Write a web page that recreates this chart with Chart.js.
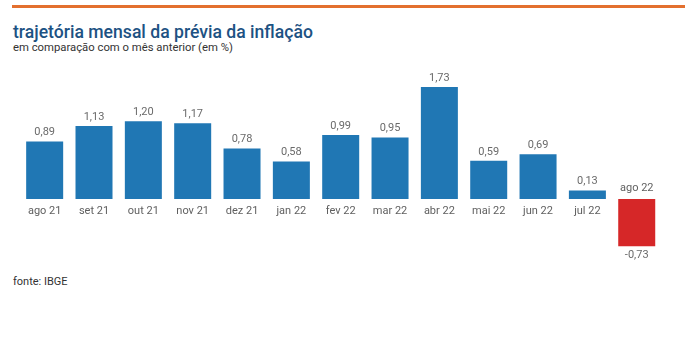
<!DOCTYPE html>
<html><head><meta charset="utf-8">
<script src="https://cdn.jsdelivr.net/npm/chart.js@4"></script>
<style>
html,body{margin:0;padding:0;background:#fff;}
#wrap{position:relative;width:700px;height:356px;overflow:hidden;font-family:Roboto,sans-serif;}
#bar{position:absolute;left:12px;top:5px;width:673px;height:3px;background:#e3702f;}
#title{position:absolute;left:13px;top:22px;font-size:17.6px;font-weight:500;color:#1d5283;white-space:nowrap;}
#sub{position:absolute;left:13px;top:41px;font-size:11.3px;color:#333;white-space:nowrap;}
#src{position:absolute;left:13px;top:275px;font-size:11px;color:#333;white-space:nowrap;}
canvas{position:absolute;left:0;top:0;}
</style></head>
<body><div id="wrap">
<div id="bar"></div>
<div id="title">trajetória mensal da prévia da inflação</div>
<div id="sub">em comparação com o mês anterior (em %)</div>
<div id="src">fonte: IBGE</div>
<canvas id="c" width="700" height="356"></canvas>
</div>
<script>
const categories = ["ago 21","set 21","out 21","nov 21","dez 21","jan 22","fev 22","mar 22","abr 22","mai 22","jun 22","jul 22","ago 22"];
const values = [0.89,1.13,1.20,1.17,0.78,0.58,0.99,0.95,1.73,0.59,0.69,0.13,-0.73];
const posColor = "#2077b4";
const negColor = "#d62728";

const labelPlugin = {
  id:'labels',
  afterDatasetsDraw(chart){
    const ctx = chart.ctx;
    const meta = chart.getDatasetMeta(0);
    const y0 = chart.scales.y.getPixelForValue(0);
    ctx.save();
    ctx.font = "11px Roboto, sans-serif";
    ctx.textAlign = "center";
    ctx.textBaseline = "middle";
    meta.data.forEach((bar,i)=>{
      const v = values[i];
      const txt = v.toFixed(2).replace('.',',');
      ctx.fillStyle = "#6a6a6a";
      if(v>=0){
        ctx.fillText(txt, bar.x, bar.y-9);
        ctx.fillStyle = "#5f5f5f";
        ctx.fillText(categories[i], bar.x, y0+12);
      } else {
        ctx.fillText(txt, bar.x, bar.y+9);
        ctx.fillStyle = "#5f5f5f";
        ctx.fillText(categories[i], bar.x, y0-11);
      }
    });
    ctx.restore();
  }
};

new Chart(document.getElementById('c'),{
  type:'bar',
  data:{labels:categories,datasets:[{data:values,backgroundColor:values.map(v=>v>=0?posColor:negColor),barPercentage:0.75,categoryPercentage:1}]},
  options:{
    responsive:false,animation:false,
    layout:{padding:{left:20,right:38.6,top:69.6,bottom:92.3}},
    plugins:{legend:{display:false},tooltip:{enabled:false}},
    scales:{
      x:{display:false},
      y:{display:false,min:-1,max:2}
    }
  },
  plugins:[labelPlugin]
});
</script>
</body></html>
